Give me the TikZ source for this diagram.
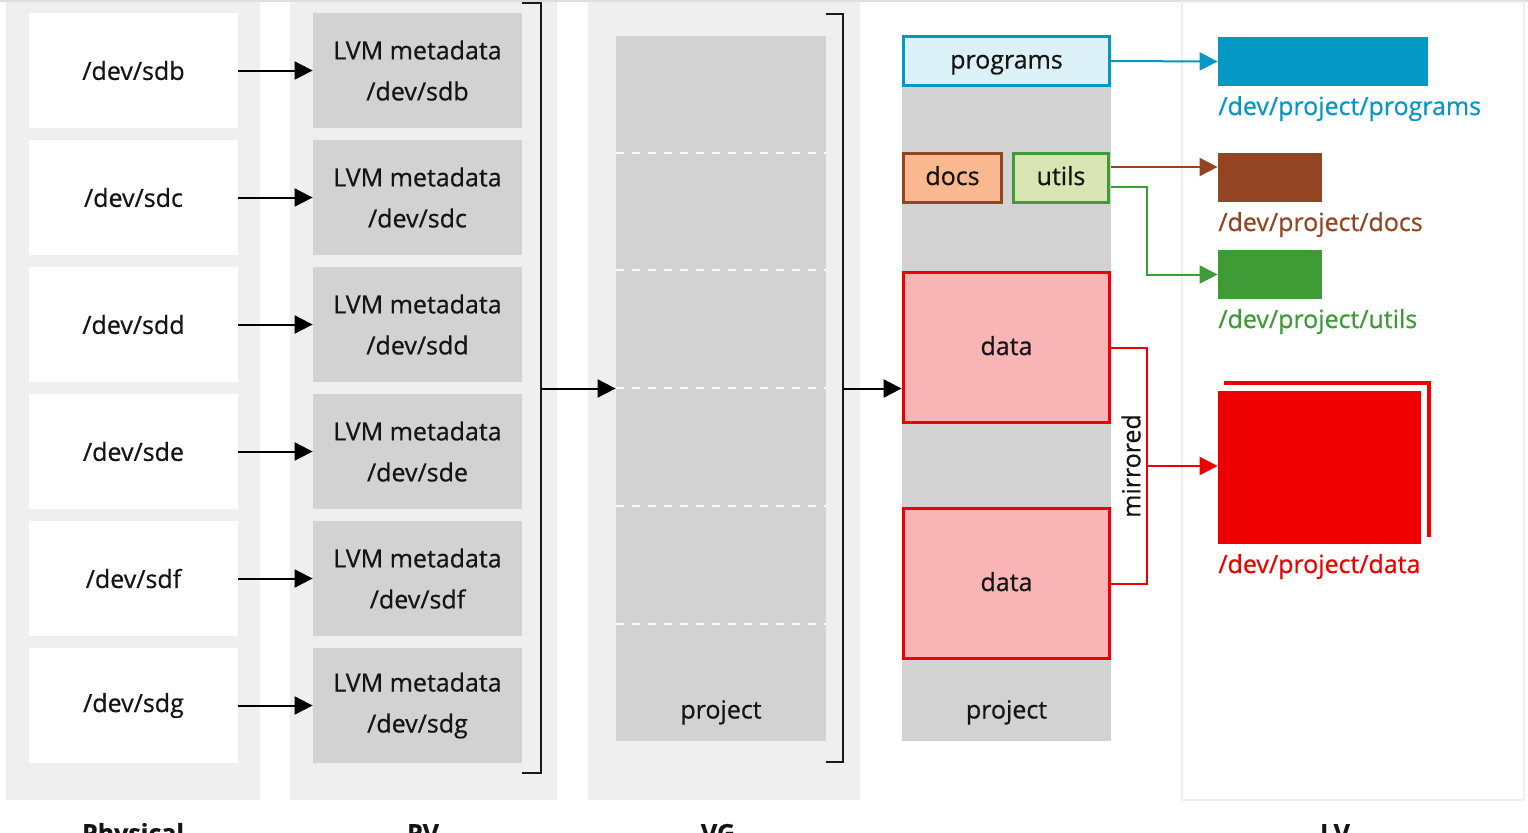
\documentclass[tikz,border=0pt]{standalone}
\usepackage{fontspec}
\setmainfont{Open Sans}[FakeBold=0.6]
\usetikzlibrary{arrows.meta,calc}
\definecolor{colgray}{HTML}{EFEFEF}
\definecolor{boxgray}{HTML}{D2D2D2}
\definecolor{lvblue}{HTML}{0598C4}
\definecolor{lvbluelight}{HTML}{DCF0F7}
\definecolor{lvbrown}{HTML}{934523}
\definecolor{lvorange}{HTML}{F9B88F}
\definecolor{lvgreen}{HTML}{3E9B35}
\definecolor{lvgreenlight}{HTML}{D9E5B3}
\definecolor{lvred}{HTML}{EE0000}
\definecolor{lvpink}{HTML}{F9B5B5}
\tikzset{
	txt/.style={font=\fontsize{12.5}{14}\selectfont, text=black!92},
	diskbox/.style={txt, fill=white, minimum width=104.5pt, minimum height=57.5pt, inner sep=0pt},
	pvbox/.style={txt, fill=boxgray, minimum width=104.5pt, minimum height=57.5pt, inner sep=0pt, align=center, font=\fontsize{12.5}{20.5}\selectfont},
	conn/.style={line width=1pt, -{Triangle[length=9pt, width=9pt]}},
	bracket/.style={line width=1.3pt, black!90},
	split/.style={white!90!boxgray, line width=0.8pt, dash pattern=on 4pt off 4pt},
	lvbox/.style={txt, line width=1.5pt, minimum height=24.5pt, inner sep=0pt, text height=7.5pt, text depth=0pt},
	devbox/.style={inner sep=0pt, minimum height=24.5pt},
	devlabel/.style={txt, anchor=base west, inner sep=0pt},
	collabel/.style={txt, anchor=base, font=\fontsize{12.5}{14}\selectfont\bfseries}
}
\begin{document}
\begin{tikzpicture}[x=0.5pt, y=-0.5pt]
			%%%%% START %%%%%
			\useasboundingbox (0, 0) rectangle (1528, 832);
			
			\draw[black!13, line width=0.6pt] (0, 1) -- (1528, 1);
			
			\fill[colgray] (6, 2) rectangle (260, 800);
			\fill[colgray] (290, 2) rectangle (557, 800);
			\fill[colgray] (588, 2) rectangle (860, 800);
			\draw[colgray, line width=1pt, fill=white] (1182, 2) rectangle (1524, 800);
			
			\node[diskbox] (sdb) at (133.5, 70.5) {/dev/sdb};
			\node[diskbox] (sdc) at (133.5, 197.5) {/dev/sdc};
			\node[diskbox] (sdd) at (133.5, 324.5) {/dev/sdd};
			\node[diskbox] (sde) at (133.5, 451.5) {/dev/sde};
			\node[diskbox] (sdf) at (133.5, 578.5) {/dev/sdf};
			\node[diskbox] (sdg) at (133.5, 705.5) {/dev/sdg};
			
			\node[pvbox] (pvsdb) at (417.5, 70.5) {LVM metadata\\/dev/sdb};
			\node[pvbox] (pvsdc) at (417.5, 197.5) {LVM metadata\\/dev/sdc};
			\node[pvbox] (pvsdd) at (417.5, 324.5) {LVM metadata\\/dev/sdd};
			\node[pvbox] (pvsde) at (417.5, 451.5) {LVM metadata\\/dev/sde};
			\node[pvbox] (pvsdf) at (417.5, 578.5) {LVM metadata\\/dev/sdf};
			\node[pvbox] (pvsdg) at (417.5, 705.5) {LVM metadata\\/dev/sdg};
			
			\draw[conn] (sdb) -- (pvsdb);
			\draw[conn] (sdc) -- (pvsdc);
			\draw[conn] (sdd) -- (pvsdd);
			\draw[conn] (sde) -- (pvsde);
			\draw[conn] (sdf) -- (pvsdf);
			\draw[conn] (sdg) -- (pvsdg);
			
			% PV bracket
			\draw[bracket] (522, 3) -- (541, 3) -- (541, 773) -- (522, 773);
			\coordinate (pvbr) at (541, 388.5);
			
			% volume group
			\node[fill=boxgray, minimum width=105pt, minimum height=352.5pt, inner sep=0pt] (vg) at (721, 388.5) {};
			\draw[split] (616, 153) -- (826, 153);
			\draw[split] (616, 270) -- (826, 270);
			\draw[split] (616, 388) -- (826, 388);
			\draw[split] (616, 506) -- (826, 506);
			\draw[split] (616, 624) -- (826, 624);
			\node[lvbox] (vgname) at (721, 711) {project};
			\draw[conn] (pvbr) -- (vg.west);
			
			% VG bracket
			\draw[bracket] (826, 14) -- (843, 14) -- (843, 762) -- (826, 762);
			\coordinate (vgbr) at (843, 388.5);
			
			% logical volumes
			\node[fill=boxgray, minimum width=104.5pt, minimum height=352pt, inner sep=0pt] (lvbar) at (1006.5, 389) {};
			\node[lvbox] (lvname) at (1006.5, 711) {project};
			\draw[conn] (vgbr) -- (vgbr -| lvbar.west);
			
			\node[lvbox, draw=lvblue, fill=lvbluelight, minimum width=103pt] (programs) at (1006.5, 61) {programs};
			\node[lvbox, draw=lvbrown, fill=lvorange, minimum width=49pt] (docs) at (952.5, 177.5) {docs};
			\node[lvbox, draw=lvgreen, fill=lvgreenlight, minimum width=47.5pt] (utils) at (1061, 177.5) {utils};
			\node[lvbox, draw=lvred, fill=lvpink, minimum width=103pt, minimum height=75pt] (dataa) at (1006.5, 347.5) {data};
			\node[lvbox, draw=lvred, fill=lvpink, minimum width=103pt, minimum height=75pt] (datab) at (1006.5, 583.5) {data};
			
			% devices
			\node[devbox, fill=lvblue, minimum width=105pt] (pdev) at (1323, 61.5) {};
			\node[devbox, fill=lvbrown, minimum width=52pt] (ddev) at (1270, 177.5) {};
			\node[devbox, fill=lvgreen, minimum width=52pt] (udev) at (1270, 274.5) {};
			\node[devbox, fill=lvred, minimum width=101.5pt, minimum height=76.5pt] (datadev) at (1319.5, 467.5) {};
			\draw[lvred, line width=2pt] (1224, 383) -- (1429, 383) -- (1429, 537);
			
			\node[devlabel, text=lvblue] (plabel) at (1218, 115) {/dev/project/programs};
			\node[devlabel, text=lvbrown] (dlabel) at (1218, 231) {/dev/project/docs};
			\node[devlabel, text=lvgreen] (ulabel) at (1218, 328) {/dev/project/utils};
			\node[devlabel, text=lvred] (datalabel) at (1218, 573) {/dev/project/data};
			
			\coordinate (docsout) at (1111, 167);
			\coordinate (utilsout) at (1111, 187);
			\coordinate (mirr) at (1147, 466);
			\draw[conn, lvblue] (programs.east) -- (pdev.west);
			\draw[conn, lvbrown] (docsout) -- (docsout -| ddev.west);
			\draw[conn, lvgreen] (utilsout) -- (1147, 187) |- (udev.west);
			\draw[lvred, line width=1pt] (dataa.east) -| (mirr) |- (datab.east);
			\draw[conn, lvred] (mirr) -- (mirr -| datadev.west);
			\node[txt, rotate=90] (mirrored) at (1131, 466) {mirrored};
			
			% column titles
			\node[collabel] (physlabel) at (133, 842) {Physical};
			\node[collabel] (pvlabel) at (423, 842) {PV};
			\node[collabel] (vglabel) at (718, 842) {VG};
			\node[collabel] (lvlabel) at (1335, 842) {LV};
			
			%%%%% END %%%%%
		\end{tikzpicture}
\end{document}
